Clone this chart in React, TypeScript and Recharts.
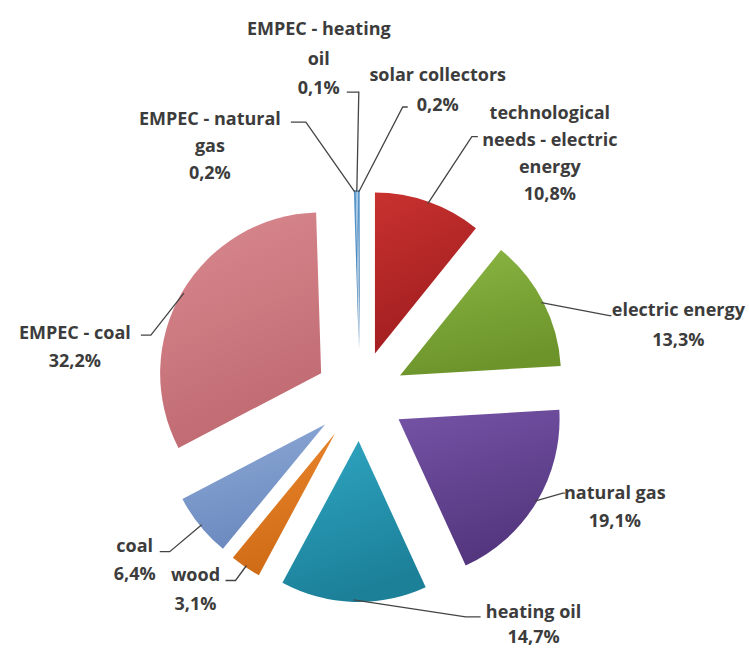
import React from "react";
import { PieChart, Pie, Cell, Sector } from "recharts";

const CATEGORIES = [
  "technological needs - electric energy",
  "electric energy",
  "natural gas",
  "heating oil",
  "wood",
  "coal",
  "EMPEC - coal",
  "EMPEC - natural gas",
  "EMPEC - heating oil",
  "solar collectors",
];
const SHARES = [10.8, 13.3, 19.1, 14.7, 3.1, 6.4, 32.2, 0.2, 0.1, 0.2];
const LABEL_LINES = [
  ["technological", "needs - electric", "energy"],
  ["electric energy"],
  ["natural gas"],
  ["heating oil"],
  ["wood"],
  ["coal"],
  ["EMPEC - coal"],
  ["EMPEC - natural", "gas"],
  ["EMPEC - heating", "oil"],
  ["solar collectors"],
];

// light -> dark (top to bottom shading)
const COLORS = [
  ["#c8322f", "#a11d20"],
  ["#8cb744", "#6c942b"],
  ["#7553a6", "#53367e"],
  ["#2fa6c2", "#1c8099"],
  ["#ee8a30", "#cf6a15"],
  ["#8eaad8", "#6c8abf"],
  ["#da8a90", "#c06a72"],
  ["#5b9bd0", "#3b78ad"],
  ["#5b9bd0", "#3b78ad"],
  ["#5b9bd0", "#3b78ad"],
];

// leader elbow (ex, ey), horizontal tail hx, first text line centre (tx, ty),
// line height lh — all relative to the slice anchor
const LABEL_LAYOUT = [
  { ex: 44, ey: -67, hx: 6, tx: 122, ty: -92, lh: 27 },
  { ex: 68, ey: 13, hx: 2, tx: 137, ty: 6, lh: 30 },
  { ex: 28, ey: -8, hx: 2, tx: 80, ty: -9, lh: 28 },
  { ex: 112, ey: 17, hx: 15, tx: 180, ty: 11, lh: 25 },
  { ex: -11, ey: 15, hx: -10, tx: -51, ty: 8, lh: 29 },
  { ex: -32, ey: 27, hx: -10, tx: -67, ty: 20, lh: 28 },
  { ex: -33, ey: 42, hx: -10, tx: -109, ty: 39, lh: 28 },
  { ex: -49, ey: -70, hx: -15, tx: -145, ty: -74, lh: 27 },
  { ex: 2, ey: -100, hx: -12, tx: -38, ty: -164, lh: 29.5 },
  { ex: 44, ey: -85, hx: 5, tx: 79, ty: -118, lh: 30 },
];

const RAD = Math.PI / 180;
const EXPLODE = 45;

const data = CATEGORIES.map((name, i) => ({ name, value: SHARES[i] }));

const fmt = (v: number) => v.toFixed(1).replace(".", ",") + "%";

function ExplodedSector(props: any) {
  const { cx, cy, midAngle, innerRadius, outerRadius, startAngle, endAngle, fill } = props;
  const dx = EXPLODE * Math.cos(midAngle * RAD);
  const dy = -EXPLODE * Math.sin(midAngle * RAD);
  return (
    <Sector
      cx={cx + dx}
      cy={cy + dy}
      innerRadius={innerRadius}
      outerRadius={outerRadius}
      startAngle={startAngle}
      endAngle={endAngle}
      fill={fill}
      stroke="none"
    />
  );
}

function renderLabel(props: any) {
  const { cx, cy, midAngle, outerRadius, index } = props;
  const lay = LABEL_LAYOUT[index];
  const r = outerRadius + EXPLODE - 2;
  const ax = cx + r * Math.cos(midAngle * RAD);
  const ay = cy - r * Math.sin(midAngle * RAD);
  const bx = ax + lay.ex;
  const by = ay + lay.ey;
  const lines = [...LABEL_LINES[index], fmt(SHARES[index])];
  return (
    <g key={`lbl-${index}`}>
      <polyline
        points={`${ax},${ay} ${bx},${by} ${bx + lay.hx},${by}`}
        fill="none"
        stroke="#444"
        strokeWidth={1.3}
      />
      {lines.map((t, k) => (
        <text
          key={k}
          x={ax + lay.tx}
          y={ay + lay.ty + k * lay.lh}
          textAnchor="middle"
          dominantBaseline="central"
          fontFamily="'Open Sans', sans-serif"
          fontWeight={700}
          fontSize={18}
          fill="#3c3c3c"
        >
          {t}
        </text>
      ))}
    </g>
  );
}

export default function App() {
  return (
    <div style={{ position: "absolute", left: 0, top: 0, background: "#fff" }}>
      <PieChart width={749} height={648}>
        <defs>
          {COLORS.map((c, i) => (
            <linearGradient key={i} id={`grad-${i}`} x1="0" y1="0" x2="0.3" y2="1">
              <stop offset="0%" stopColor={c[0]} />
              <stop offset="100%" stopColor={c[1]} />
            </linearGradient>
          ))}
        </defs>
        <Pie
          data={data}
          dataKey="value"
          nameKey="name"
          cx={355}
          cy={391}
          outerRadius={161}
          startAngle={90}
          endAngle={-270}
          stroke="none"
          shape={ExplodedSector}
          activeShape={ExplodedSector}
          inactiveShape={ExplodedSector}
          label={renderLabel}
          labelLine={false}
          isAnimationActive={false}
        >
          {data.map((_, i) => (
            <Cell key={i} fill={`url(#grad-${i})`} />
          ))}
        </Pie>
      </PieChart>
    </div>
  );
}
